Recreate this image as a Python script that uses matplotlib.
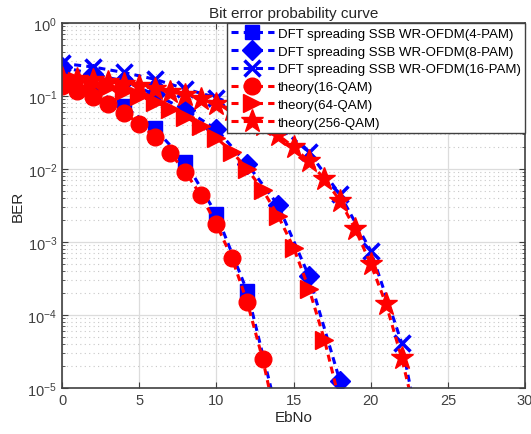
import numpy as np
import matplotlib.pyplot as plt
from matplotlib.ticker import LogLocator, MultipleLocator, NullFormatter

plt.rcParams['font.family'] = ['Liberation Sans', 'DejaVu Sans']

# simulated curves (every 2 dB)
ebno_sim = np.arange(0, 25, 2)
ber_4pam = [0.19, 0.125, 0.072, 0.036, 0.0125, 0.0024, 0.00021, 4e-6]
ber_8pam = [0.25, 0.2, 0.16, 0.105, 0.065, 0.035, 0.0117, 0.0032, 3.4e-4, 1.26e-5, 1e-7]
ber_16pam = [0.28, 0.25, 0.21, 0.17, 0.125, 0.095, 0.065, 0.039, 0.017,
             0.0045, 7.6e-4, 4.2e-5, 3e-7]

# theory curves (every 1 dB)
ebno_th = np.arange(0, 24)
ber_16qam = [0.139, 0.118, 0.0976, 0.0776, 0.0588, 0.042, 0.0277, 0.0167,
             0.00904, 0.00435, 0.00175, 6.1e-4, 1.5e-4, 2.5e-5, 2.7e-6]
ber_64qam = [0.173, 0.16, 0.146, 0.131, 0.116, 0.0998, 0.0834, 0.0674, 0.0522,
             0.0388, 0.0268, 0.0173, 0.01, 0.00517, 0.00229, 8.4e-4, 2.3e-4,
             4.6e-5, 6.4e-6]
ber_256qam = [0.178, 0.171, 0.164, 0.156, 0.147, 0.137, 0.1266, 0.1153, 0.1034,
              0.0907, 0.0778, 0.0647, 0.0518, 0.0398, 0.0292, 0.02, 0.0127,
              0.0073, 0.0037, 0.0015, 5.0e-4, 1.4e-4, 2.6e-5, 3.5e-6]

labels = ['DFT spreading SSB WR-OFDM(4-PAM)', 'DFT spreading SSB WR-OFDM(8-PAM)',
          'DFT spreading SSB WR-OFDM(16-PAM)', 'theory(16-QAM)', 'theory(64-QAM)',
          'theory(256-QAM)']

fig = plt.figure(figsize=(5.31, 4.35), dpi=100)
ax = fig.add_axes([0.1168, 0.1057, 0.872, 0.8391])

blue = '#0000ff'
red = '#ff0000'
lw = 2.2
dash = (0, (2.3, 1.7))
ax.semilogy(ebno_sim[:len(ber_4pam)], ber_4pam, marker='s', ls=dash, color=blue, lw=lw, ms=10, label=labels[0])
ax.semilogy(ebno_sim[:len(ber_8pam)], ber_8pam, marker='D', ls=dash, color=blue, lw=lw, ms=10, label=labels[1])
ax.semilogy(ebno_sim[:len(ber_16pam)], ber_16pam, marker='x', ls=dash, color=blue, lw=lw, ms=12, mew=2.5, label=labels[2])
ax.semilogy(ebno_th[:len(ber_16qam)], ber_16qam, marker='o', ls=dash, color=red, lw=lw, ms=12, label=labels[3])
ax.semilogy(ebno_th[:len(ber_64qam)], ber_64qam, marker='>', ls=dash, color=red, lw=lw, ms=13, label=labels[4])
ax.semilogy(ebno_th[:len(ber_256qam)], ber_256qam, marker='*', ls=dash, color=red, lw=lw, ms=17, label=labels[5])

ax.set_xlim(0, 30)
ax.set_ylim(1e-5, 1)
ax.xaxis.set_major_locator(MultipleLocator(5))
ax.yaxis.set_major_locator(LogLocator(base=10, numticks=10))
ax.yaxis.set_minor_locator(LogLocator(base=10, subs=np.arange(2, 10), numticks=20))
ax.yaxis.set_minor_formatter(NullFormatter())

ax.grid(True, which='major', color='#dcdcdc', lw=0.9, ls='-')
ax.grid(True, axis='y', which='minor', color='#c8c8c8', lw=0.8, ls=(0, (1, 3)))
ax.set_axisbelow(True)

ax.tick_params(which='both', direction='in', top=True, right=True, colors='#404040',
               labelsize=10.5)
ax.tick_params(which='major', length=4)
ax.tick_params(which='minor', length=2.5)
for s in ax.spines.values():
    s.set_color('#404040')
    s.set_linewidth(1.2)

ax.set_title('Bit error probability curve', fontsize=11, color='#262626', pad=4)
ax.set_xlabel('EbNo', fontsize=11, color='#262626', labelpad=2)
ax.set_ylabel('BER', fontsize=11, color='#262626', labelpad=2)

leg = ax.legend(loc='upper right', borderaxespad=0, fontsize=9.5, handlelength=3.2,
                labelspacing=0.42, handletextpad=0.3, borderpad=0.35,
                fancybox=False, framealpha=1, edgecolor='#404040')
leg.get_frame().set_linewidth(1.0)

fig.savefig('out.png', dpi=100)
